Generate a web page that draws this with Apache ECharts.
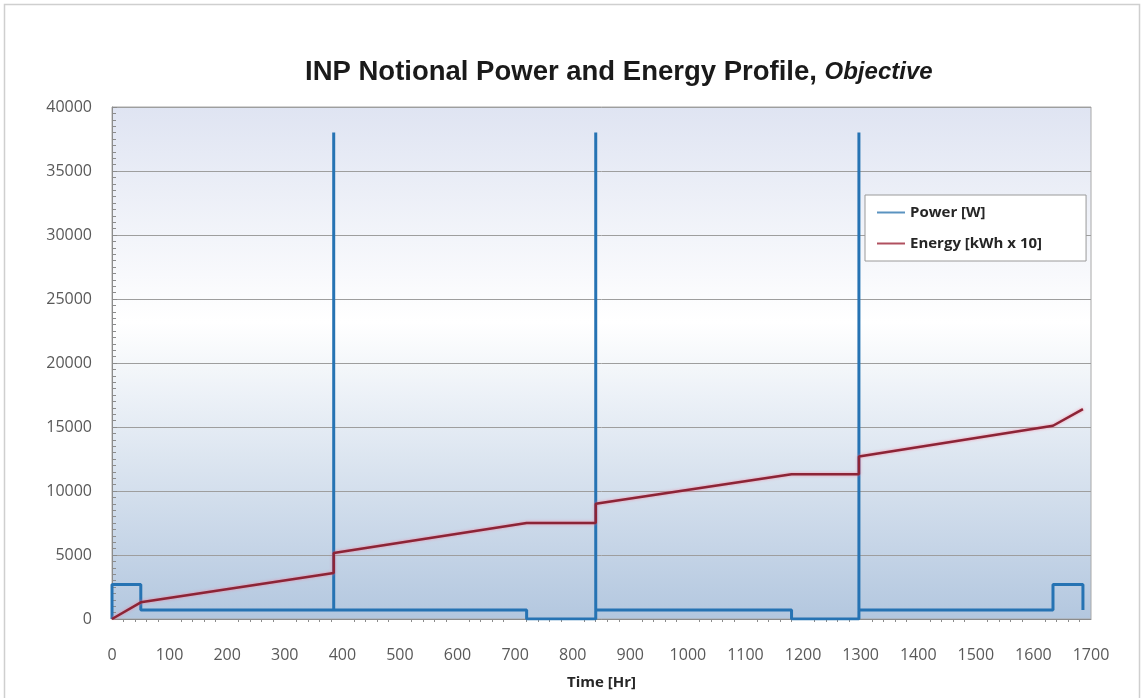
<!DOCTYPE html>
<html>
<head>
<meta charset="utf-8">
<title>INP Notional Power and Energy Profile</title>
<script src="https://cdn.jsdelivr.net/npm/echarts@6/dist/echarts.min.js"></script>
<style>
  html, body { margin: 0; padding: 0; background: #fff; }
  #chart { width: 1144px; height: 698px; }
</style>
</head>
<body>
<div id="chart"></div>
<script>
// time [hr] and power [W], step profile with three pulses
var powerTime  = [0, 0, 50, 50, 385, 385, 385, 720, 720, 840, 840, 840, 1180, 1180, 1297, 1297, 1297, 1634, 1634, 1686, 1686];
var powerValue = [0, 2700, 2700, 700, 700, 38000, 700, 700, 0, 0, 38000, 700, 700, 0, 0, 38000, 700, 700, 2700, 2700, 700];

// cumulative energy [kWh x 10]
var energyTime  = [0, 50, 385, 385, 720, 840, 840, 1180, 1297, 1297, 1634, 1686];
var energyValue = [0, 1300, 3600, 5150, 7500, 7500, 9000, 11300, 11300, 12700, 15100, 16400];

var seriesNames = ['Power [W]', 'Energy [kWh x 10]'];

function pairs(xs, ys) {
  var out = [];
  for (var i = 0; i < xs.length; i++) {
    out.push([xs[i], ys[i]]);
  }
  return out;
}

var chart = echarts.init(document.getElementById('chart'));

var lineIcon = 'path://M0,0 L28,0 L28,2 L0,2 Z';
var plain = function (v) { return String(v); };

var option = {
  animation: false,
  backgroundColor: '#ffffff',
  title: {
    left: 300,
    top: 53,
    text: '{a|INP Notional Power and Energy Profile, }{b|Objective}',
    textStyle: {
      rich: {
        a: { fontFamily: 'Liberation Sans', fontWeight: 'bold', fontSize: 27.5, color: '#1a1a1a' },
        b: { fontFamily: 'Liberation Sans', fontWeight: 'bold', fontStyle: 'italic', fontSize: 24, color: '#1a1a1a' }
      }
    }
  },
  legend: {
    orient: 'vertical',
    left: 865,
    top: 195,
    padding: [10, 44, 10, 12],
    itemGap: 16,
    itemWidth: 28,
    itemHeight: 2,
    backgroundColor: '#ffffff',
    borderColor: '#9a9a9a',
    borderWidth: 1,
    textStyle: { fontFamily: 'Open Sans', fontWeight: 'bold', fontSize: 15, color: '#262626' },
    data: [
      { name: seriesNames[0], icon: lineIcon, itemStyle: { color: '#5a93c0' } },
      { name: seriesNames[1], icon: lineIcon, itemStyle: { color: '#b0505f' } }
    ]
  },
  grid: {
    left: 112,
    right: 53,
    top: 107,
    bottom: 79,
    show: true,
    borderColor: '#a8a8a8',
    borderWidth: 1,
    backgroundColor: {
      type: 'linear', x: 0, y: 0, x2: 0, y2: 1,
      colorStops: [
        { offset: 0, color: '#dfe4f2' },
        { offset: 0.42, color: '#ffffff' },
        { offset: 1, color: '#b3c7df' }
      ]
    }
  },
  xAxis: {
    type: 'value',
    min: 0,
    max: 1700,
    interval: 100,
    name: 'Time [Hr]',
    nameLocation: 'middle',
    nameGap: 56,
    nameTextStyle: { fontFamily: 'Open Sans', fontWeight: 'bold', fontSize: 15, color: '#262626' },
    axisLine: { show: true, lineStyle: { color: '#8c8c8c' } },
    axisTick: { show: false },
    minorTick: { show: true, splitNumber: 5, length: 3, lineStyle: { color: '#8c8c8c' } },
    axisLabel: { margin: 28, fontFamily: 'Open Sans', fontSize: 16, color: '#595959', formatter: plain },
    splitLine: { show: false }
  },
  yAxis: {
    type: 'value',
    min: 0,
    max: 40000,
    interval: 5000,
    axisLine: { show: true, lineStyle: { color: '#8c8c8c' } },
    axisTick: { show: true, inside: true, length: 5, lineStyle: { color: '#8c8c8c' } },
    minorTick: { show: true, splitNumber: 10, length: 4, lineStyle: { color: '#8c8c8c' } },
    axisLabel: { margin: 20, fontFamily: 'Open Sans', fontSize: 16, color: '#595959', formatter: plain },
    splitLine: { show: true, lineStyle: { color: '#9e9e9e', width: 1 } }
  },
  graphic: [{
    type: 'rect',
    shape: { x: 4.5, y: 4.5, width: 1135, height: 700 },
    style: { fill: null, stroke: '#cfcfcf', lineWidth: 1.5 },
    silent: true,
    z: -1
  }],
  series: [
    {
      name: seriesNames[0],
      type: 'line',
      data: pairs(powerTime, powerValue),
      showSymbol: false,
      color: '#2673b3',
      lineStyle: { color: '#2673b3', width: 3 },
      z: 2
    },
    {
      name: seriesNames[1],
      type: 'line',
      data: pairs(energyTime, energyValue),
      showSymbol: false,
      color: '#8c2436',
      lineStyle: {
        color: '#8c2436',
        width: 2.5,
        shadowColor: 'rgba(255,110,140,0.7)',
        shadowBlur: 3
      },
      z: 3
    }
  ]
};

chart.setOption(option);
</script>
</body>
</html>
